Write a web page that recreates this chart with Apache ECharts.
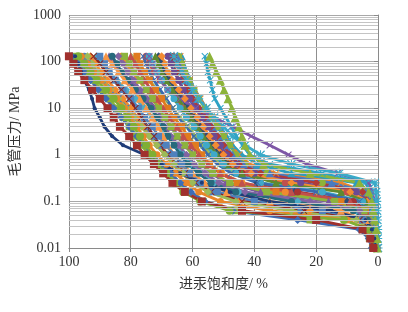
<!DOCTYPE html>
<html><head><meta charset="utf-8">
<script src="https://cdn.jsdelivr.net/npm/echarts@6/dist/echarts.min.js"></script>
<style>html,body{margin:0;padding:0;background:#fff}#c{width:408px;height:312px}</style>
</head><body><div id="c"></div>
<script>
// Pressure steps (MPa), shared by all curves
const pressure = [130, 90, 60, 40, 25, 16, 10, 6.3, 4, 2.5, 1.6, 1, 0.63, 0.4, 0.25, 0.16, 0.1, 0.063, 0.04, 0.025, 0.016, 0.01];
const xTicks = [0, 20, 40, 60, 80, 100];
const yTicks = [0.01, 0.1, 1, 10, 100, 1000];
// Mercury saturation (%) at each pressure step
const s01 = [100, 98.5, 97, 95, 92.5, 90, 87.5, 85.5, 83.5, 80.5, 78, 75.5, 72.5, 69.5, 66.5, 62.5, 57, 44, 20, 5, 2.5, 1.5];
const s02 = [98, 97, 96, 95, 93.5, 92.5, 91.7, 90, 88.5, 86, 82.5, 75.5, 70, 64, 57, 48, 35, 15, 4, 2, 1.2, 0.8];
const s03 = [97, 95, 93, 91, 88, 85.5, 83, 81, 79, 77, 75, 73, 71, 68.5, 66, 63, 57.5, 48, 11, 3, 2, 1];
const s04 = [54.5, 53.5, 52.3, 51, 49.8, 48.5, 47.3, 46.2, 45, 44, 43, 41.5, 37, 22, 6, 3, 2, 1.5, 1, 0.5, 0.3, 0.2];
const s05 = [56, 55.5, 55, 54.3, 53.6, 52.8, 51, 49.2, 47.5, 45.8, 43.8, 41.5, 35, 18, 4, 2.5, 1.8, 1.2, 0.8, 0.5, 0.3, 0.2];
const s06 = [66, 65, 63.5, 62, 60, 58, 55.5, 53, 50, 47, 43, 38, 28, 12.5, 1, 0.6, 0.4, 0.3, 0.2, 0.1, 0.1, 0];
const s07 = [74, 73, 72, 70.5, 68, 64, 59, 53, 47, 41, 35, 29, 23, 13, 3, 1.8, 1.2, 0.8, 0.5, 0.3, 0.2, 0.1];
const s08 = [99, 97, 95, 93, 90.5, 88, 85.5, 83, 80.5, 78, 75.5, 73, 70, 67, 64, 60.5, 56, 47, 26, 6, 3, 2];
const s09 = [96, 94, 92, 89.5, 87, 84.5, 82, 80, 78, 76, 74, 71.5, 68.5, 65.5, 62, 58, 51, 35, 10, 3.5, 2.2, 1.4];
const s10 = [94, 92.5, 91, 89, 86.5, 84, 81.5, 79, 76.5, 74, 71.5, 69, 66, 63, 60, 55, 46, 28, 7, 3, 2, 1.3];
const s11 = [92, 90, 88, 85.5, 83, 80.5, 78.5, 76.5, 74.5, 72.5, 70.5, 68, 65.5, 62.5, 59, 54, 44, 24, 6, 3, 2, 1.2];
const s12 = [90, 88.5, 87, 85, 82.5, 80, 77.5, 75.5, 73, 71, 68.5, 66, 63.5, 61, 57.5, 52, 40, 18, 5, 2.8, 1.8, 1.2];
const s13 = [88, 86, 84, 82, 79.5, 77, 75, 73, 71, 69.5, 68, 66, 63.5, 60, 56, 49, 35, 12, 4, 2.5, 1.6, 1];
const s14 = [86, 84.5, 83, 81, 78.5, 76, 73.5, 71.5, 69.5, 68, 66, 64, 61.5, 58, 54, 46, 28, 8, 3.5, 2.2, 1.5, 1];
const s15 = [84, 82.5, 81, 79, 77, 75, 73, 71, 69, 67, 64.5, 62, 59.5, 56, 51.5, 43, 22, 6, 3, 2, 1.3, 0.8];
const s16 = [82, 80.5, 79, 77, 75, 73, 71, 69, 67, 65, 62.5, 60, 57, 53.5, 48, 36, 14, 4.5, 2.6, 1.8, 1.2, 0.8];
const s17 = [80, 78.5, 77, 75.5, 73.5, 71.5, 69.5, 67.5, 65, 63, 60.5, 58, 55, 51, 44, 28, 9, 4, 2.5, 1.7, 1.1, 0.7];
const s18 = [78, 77, 75.5, 74, 72, 70, 68, 66, 63.5, 61.5, 59, 57, 54.5, 51, 45.5, 33, 12, 4, 2.5, 1.6, 1.1, 0.7];
const s19 = [76, 75, 74, 72.5, 70.5, 68.5, 66.5, 64.5, 62, 59.5, 57.5, 55, 52, 47.5, 39, 20, 6, 3, 2, 1.4, 1, 0.6];
const s20 = [74, 73, 71.5, 70, 68, 66, 64, 62, 59.5, 57.5, 55.5, 53, 50, 46, 38, 18, 5, 3, 2, 1.4, 0.9, 0.6];
const s21 = [72, 71, 70, 68.5, 66.5, 64.5, 62.5, 60.5, 58.5, 56.5, 54.5, 52, 49, 44, 33, 12, 4, 2.5, 1.8, 1.2, 0.8, 0.5];
const s22 = [70, 69, 68, 66.5, 64.5, 62.5, 60.5, 58.5, 56.5, 54.5, 52.5, 50, 47, 41, 28, 9, 3.5, 2.4, 1.7, 1.1, 0.7, 0.4];
const s23 = [68, 67, 66, 64.5, 63, 61, 59, 57, 55, 53, 51, 49, 46, 40, 25, 7, 3, 2, 1.5, 1, 0.6, 0.4];
const s24 = [66, 65, 64, 63, 61.5, 60, 58, 56, 54, 52, 50, 48, 45, 38, 20, 5, 3, 2, 1.4, 0.9, 0.6, 0.3];
const s25 = [65, 64.5, 63.5, 62.5, 61, 59.5, 57.5, 55.5, 53.5, 51.5, 49.5, 47, 43.5, 35, 15, 4, 2.5, 1.7, 1.2, 0.8, 0.5, 0.3];
const s26 = [64.5, 63.5, 62.5, 61, 59.5, 58, 56, 54, 52, 50, 48, 46, 43, 36, 18, 5, 3, 2, 1.4, 0.9, 0.6, 0.3];
const s27 = [64, 63.3, 62.3, 61, 59.3, 57.5, 55.5, 53.5, 51.5, 49.5, 47.5, 45, 41.5, 33, 12, 4, 2.4, 1.6, 1.1, 0.7, 0.4, 0.2];
const s28 = [63.5, 63, 62, 60.8, 59.3, 57.5, 55.5, 53, 51, 49, 47, 44, 39, 28, 7, 3, 2, 1.4, 1, 0.6, 0.4, 0.2];
const s29 = [67, 66.5, 65.5, 64.5, 63, 61, 59, 57, 55, 53, 51.5, 50, 47.5, 44, 38, 26, 8, 3.5, 2.3, 1.5, 1, 0.6];
const s30 = [71, 70, 69, 67.5, 65.5, 63.5, 61.5, 59.5, 57.5, 55.5, 53.5, 51, 48.5, 45, 39, 27, 10, 4, 2.5, 1.6, 1, 0.6];
const s31 = [98, 96, 94, 92, 89.5, 87, 84.5, 82.5, 80.5, 78.5, 76.5, 74, 71, 68, 65, 61.5, 56.5, 46, 22, 5, 2.8, 1.8];
const s32 = [93, 91.5, 89.5, 87.5, 85, 82.5, 80, 78, 76, 74, 71.5, 69, 66.5, 63.5, 60, 55, 45, 22, 6, 3, 2, 1.3];
const s33 = [95, 93.5, 91.5, 89, 86, 83, 80.5, 78, 75.5, 73, 70.5, 68, 65, 62, 58.5, 54, 45, 25, 6, 3, 2, 1.2];
const s34 = [91, 89, 87, 84.5, 81.5, 78.5, 75.5, 73, 70.5, 68, 65.5, 63, 60.5, 57.5, 53, 45, 26, 7, 3.5, 2.2, 1.4, 0.9];
const s35 = [87, 85, 83, 80.5, 77.5, 74.5, 72, 69.5, 67, 64.5, 62, 59.5, 57, 54, 49, 38, 16, 5, 3, 2, 1.3, 0.8];
const s36 = [83, 81.5, 79.5, 77.5, 75, 72.5, 70, 67.5, 65, 62.5, 60, 57.5, 54.5, 50.5, 44, 30, 10, 4, 2.5, 1.7, 1.1, 0.7];
const s37 = [79, 77.5, 76, 74, 71.5, 69, 66.5, 64, 61.5, 59, 56.5, 54, 51, 46.5, 38, 19, 6, 3, 2, 1.4, 1, 0.6];
const s38 = [75, 74, 72.5, 70.5, 68, 65.5, 63, 60.5, 58, 55.5, 53, 50.5, 47.5, 42, 30, 10, 4, 2.5, 1.8, 1.2, 0.8, 0.5];

const X = 'path://M1,0L5,4L9,0L10,1L6,5L10,9L9,10L5,6L1,10L0,9L4,5L0,1Z';
const STAR = 'path://M1,0L5,4L9,0L10,1L6,5L10,9L9,10L5,6L1,10L0,9L4,5L0,1Z M4.4,0H5.6V10H4.4Z M0,4.4H10V5.6H0Z';

const curves = [
  [s38, '#C0504D', 'circle', 7],
  [s37, '#9BBB59', X, 7],
  [s36, '#F08A30', 'circle', 7],
  [s35, '#7A55A0', 'triangle', 8],
  [s34, '#4BACC6', 'diamond', 8],
  [s33, '#4F81BD', 'circle', 7],
  [s32, '#F28A2E', 'diamond', 8],
  [s31, '#8CB33E', 'rect', 7],
  [s30, '#2C4D75', 'diamond', 8],
  [s29, '#A83431', 'circle', 7],
  [s28, '#2E9DBD', 'triangle', 8],
  [s27, '#E9862C', X, 7],
  [s26, '#8DB33A', 'circle', 7],
  [s25, '#4A7BC0', 'triangle', 8],
  [s24, '#B23A36', 'diamond', 8],
  [s23, '#6B4A94', 'circle', 7],
  [s22, '#F38B33', 'diamond', 8],
  [s21, '#5F8A30', 'triangle', 8],
  [s20, '#3FA9C9', 'circle', 7],
  [s19, '#3A6BAF', X, 7],
  [s18, '#E07B1F', 'rect', 7],
  [s17, '#C0504D', 'triangle', 8],
  [s16, '#8CB33E', 'rect', 7],
  [s15, '#8064A2', 'diamond', 8],
  [s14, '#276A7C', 'circle', 7],
  [s13, '#F79646', 'triangle', 8],
  [s12, '#4F81BD', 'rect', 7],
  [s11, '#8B2522', X, 7],
  [s10, '#9BBB59', 'diamond', 8],
  [s09, '#E8862A', 'circle', 7],
  [s08, '#3E6DB5', 'diamond', 8],
  [s07, '#7E57A6', X, 7],
  [s06, '#3AAAC8', STAR, 9],
  [s05, '#2FA3C5', X, 7],
  [s04, '#8DB33A', 'triangle', 9],
  [s03, '#7FAF34', 'circle', 8],
  [s02, '#1F3C78', 'circle', 4],
  [s01, '#A0302D', 'rect', 8]
];

const minorGrid = [];
for (let k = 0; k < yTicks.length - 1; k++) {
  for (let m = 2; m <= 9; m++) minorGrid.push(Number((yTicks[k] * m).toPrecision(3)));
}

const series = [{
  type: 'line', data: [], silent: true, z: 1,
  markLine: {
    silent: true, symbol: 'none', animation: false,
    label: { show: false },
    lineStyle: { color: '#c4c4c4', width: 1, type: 'solid' },
    emphasis: { disabled: true },
    data: minorGrid.map(v => ({ yAxis: v }))
  }
}];
curves.forEach((c, i) => {
  series.push({
    type: 'line', z: 3,
    data: c[0].map((s, j) => [s, pressure[j]]),
    symbol: c[2], symbolSize: c[3], showSymbol: true,
    lineStyle: { color: c[1], width: 2.8 },
    itemStyle: { color: c[1] },
    emphasis: { disabled: true },
    animation: false
  });
});

const serif = "'Liberation Serif', 'DejaVu Serif', serif";
const chart = echarts.init(document.getElementById('c'), null, { renderer: 'canvas' });
chart.setOption({
  backgroundColor: '#fff',
  animation: false,
  grid: { left: 66, right: 30, top: 15, bottom: 64, containLabel: false },
  xAxis: {
    type: 'value', inverse: true, min: xTicks[0], max: xTicks[xTicks.length - 1], interval: 20,
    name: '进汞饱和度/ %', nameLocation: 'middle', nameGap: 29,
    nameTextStyle: { fontFamily: "'Liberation Serif', 'Noto Sans CJK SC'", fontSize: 14, color: '#333' },
    axisLine: { lineStyle: { color: '#8a8a8a', width: 1 } },
    axisTick: { show: true, length: 4, lineStyle: { color: '#8a8a8a' } },
    axisLabel: { fontFamily: serif, fontSize: 14, color: '#333', margin: 7 },
    splitLine: { show: true, lineStyle: { color: '#8f8f8f', width: 1 } }
  },
  yAxis: {
    type: 'log', logBase: 10, min: yTicks[0], max: yTicks[yTicks.length - 1],
    name: '毛管压力/ MPa', nameLocation: 'middle', nameGap: 42, nameRotate: 90,
    nameTextStyle: { fontFamily: "'Liberation Serif', 'Noto Sans CJK SC'", fontSize: 14, color: '#333' },
    axisLine: { show: true, lineStyle: { color: '#8a8a8a', width: 1 } },
    axisTick: { show: true, length: 4, lineStyle: { color: '#8a8a8a' } },
    axisLabel: { fontFamily: serif, fontSize: 14, color: '#333', margin: 8,
      formatter: v => String(Number(Number(v).toPrecision(3))) },
    splitLine: { show: true, lineStyle: { color: '#a8a8a8', width: 1 } }
  },
  series: series
});
</script></body></html>
